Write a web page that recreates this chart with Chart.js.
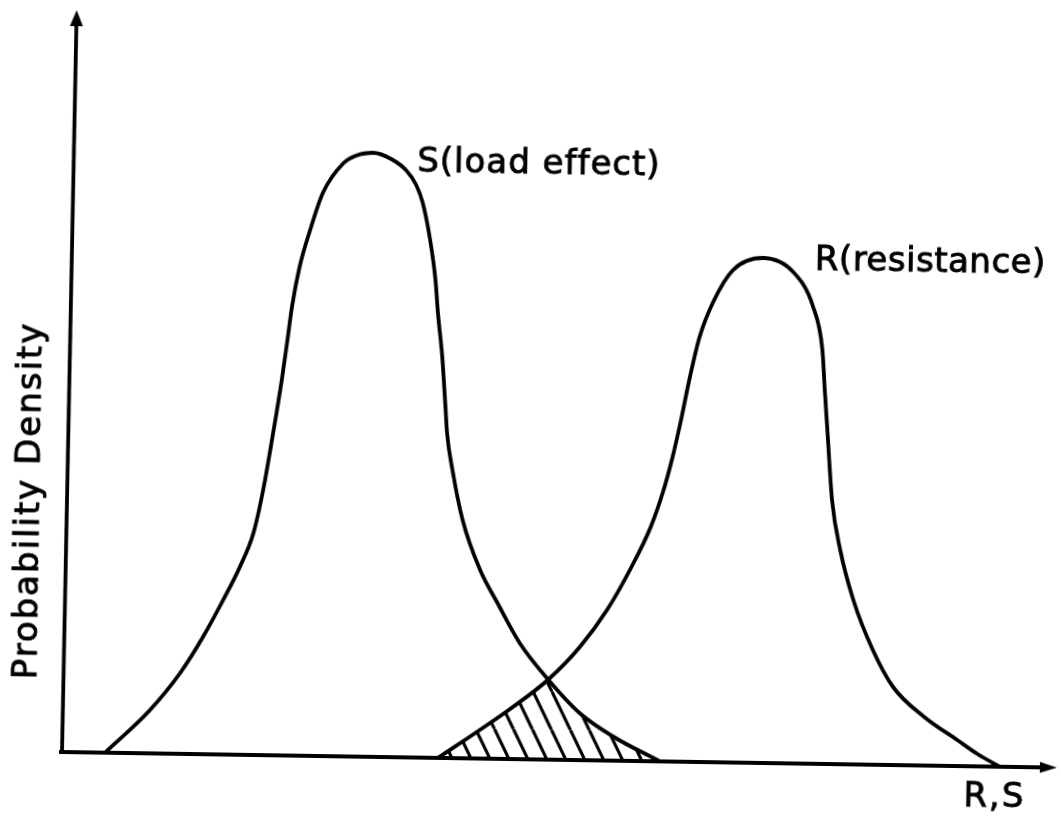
<!DOCTYPE html>
<html>
<head>
<meta charset="utf-8">
<script src="https://cdn.jsdelivr.net/npm/chart.js@4.4.1/dist/chart.umd.min.js"></script>
<style>
    html, body { margin: 0; padding: 0; background: #fff; overflow: hidden; }
    /* the scanned figure sits about one degree clockwise */
    #chartRS { transform: rotate(0.9deg); transform-origin: 62px 752px; }
</style>
</head>
<body>
<canvas id="chartRS" width="1061" height="816"></canvas>
<script>
// S (load effect) curve
const loadX = [43, 87, 117, 139, 159, 175, 188, 197, 205, 214, 219, 223, 230, 240, 252, 272, 285, 302, 320, 335, 345, 352, 360, 366, 369, 374, 378, 380, 386, 397, 415, 433, 456, 485, 517, 551, 598];
const loadY = [0, 43, 81, 117, 155, 188, 222, 265, 315, 376, 416, 449, 489, 526, 563, 593, 601, 604, 598, 587, 573, 555, 518, 478, 445, 401, 351, 325, 288, 238, 189, 156, 116, 80, 47, 24, 0];

// R (resistance) curve
const resX = [376, 418, 450, 485, 516, 543, 565, 585, 597, 606, 613, 622, 631, 644, 663, 693, 724, 744, 754, 757, 761, 766, 775, 789, 809, 830, 861, 895, 916, 938];
const resY = [0, 29, 52, 80, 113, 151, 191, 234, 270, 305, 338, 385, 425, 460, 492, 505, 491, 457, 414, 374, 324, 264, 214, 164, 115, 78, 49, 26, 12, 0];

// overlap (failure region)
const overlapX = [376, 418, 450, 485, 517, 551, 598];
const overlapY = [0, 29, 52, 80, 47, 24, 0];

const labelLoad = 'S(load effect)';
const labelRes = 'R(resistance)';
const labelXAxis = 'R,S';
const labelYAxis = 'Probability Density';

const canvas = document.getElementById('chartRS');
const context = canvas.getContext('2d');

const toPoints = (xs, ys) => xs.map((x, i) => ({ x: x, y: ys[i] }));

const makeHatch = () => {
    const tile = document.createElement('canvas');
    tile.width = 19;
    tile.height = 38;
    const t = tile.getContext('2d');
    t.strokeStyle = '#000';
    t.lineWidth = 3.2;
    [-19, 0, 19].forEach(off => {
        t.beginPath();
        t.moveTo(off, 0);
        t.lineTo(off + 19, 38);
        t.stroke();
    });
    return context.createPattern(tile, 'repeat');
};

const drawText = (ctx, text, x, y, spacing, rot) => {
    ctx.save();
    ctx.translate(x, y);
    if (rot) ctx.rotate(rot);
    ctx.letterSpacing = spacing + 'px';
    ctx.font = '34px "DejaVu Sans"';
    ctx.fillStyle = '#000';
    ctx.strokeStyle = '#000';
    ctx.lineWidth = 0.9;
    ctx.textAlign = 'left';
    ctx.textBaseline = 'alphabetic';
    ctx.fillText(text, 0, 0);
    ctx.strokeText(text, 0, 0);
    ctx.restore();
};

const axesPlugin = {
    id: 'axesArrows',
    afterDatasetsDraw(chart) {
        const { ctx, chartArea: { left, right, top, bottom }, scales: { x, y } } = chart;
        ctx.save();
        ctx.strokeStyle = '#000';
        ctx.fillStyle = '#000';
        ctx.lineWidth = 3.8;
        ctx.lineCap = 'butt';

        // y axis
        ctx.beginPath();
        ctx.moveTo(left, bottom + 2);
        ctx.lineTo(left + 3, top + 12);
        ctx.stroke();
        ctx.beginPath();
        ctx.moveTo(left + 3, top);
        ctx.lineTo(left + 9.5, top + 16);
        ctx.lineTo(left - 3.5, top + 16);
        ctx.closePath();
        ctx.fill();

        // x axis
        ctx.beginPath();
        ctx.moveTo(left - 3, bottom);
        ctx.lineTo(right - 12, bottom);
        ctx.stroke();
        ctx.beginPath();
        ctx.moveTo(right, bottom);
        ctx.lineTo(right - 17, bottom - 5.5);
        ctx.lineTo(right - 17, bottom + 5.5);
        ctx.closePath();
        ctx.fill();
        ctx.restore();

        drawText(ctx, labelLoad, x.getPixelForValue(346), y.getPixelForValue(586), 1);
        drawText(ctx, labelRes, x.getPixelForValue(745), y.getPixelForValue(494), 0.5);
        drawText(ctx, labelXAxis, x.getPixelForValue(902), y.getPixelForValue(-40), 2);
        drawText(ctx, labelYAxis, x.getPixelForValue(-27), y.getPixelForValue(72), 2, -Math.PI / 2);
    }
};

const chartRS = new Chart(context, {
    type: 'line',
    data: {
        datasets: [
            {
                label: 'overlap',
                data: toPoints(overlapX, overlapY),
                borderWidth: 0,
                borderColor: 'rgba(0,0,0,0)',
                backgroundColor: makeHatch(),
                fill: 'origin',
                tension: 0,
                pointRadius: 0,
                clip: false
            },
            {
                label: labelLoad,
                data: toPoints(loadX, loadY),
                borderColor: '#000',
                borderWidth: 3.8,
                fill: false,
                cubicInterpolationMode: 'monotone',
                pointRadius: 0,
                clip: false
            },
            {
                label: labelRes,
                data: toPoints(resX, resY),
                borderColor: '#000',
                borderWidth: 3.8,
                fill: false,
                cubicInterpolationMode: 'monotone',
                pointRadius: 0,
                clip: false
            }
        ]
    },
    options: {
        responsive: false,
        animation: false,
        devicePixelRatio: 1,
        layout: { padding: { left: 62, right: 4, top: 10, bottom: 64 } },
        scales: {
            x: { type: 'linear', min: 0, max: 995, display: false },
            y: { type: 'linear', min: 0, max: 742, display: false }
        },
        plugins: {
            legend: { display: false },
            tooltip: { enabled: false }
        }
    },
    plugins: [axesPlugin]
});
</script>
</body>
</html>
